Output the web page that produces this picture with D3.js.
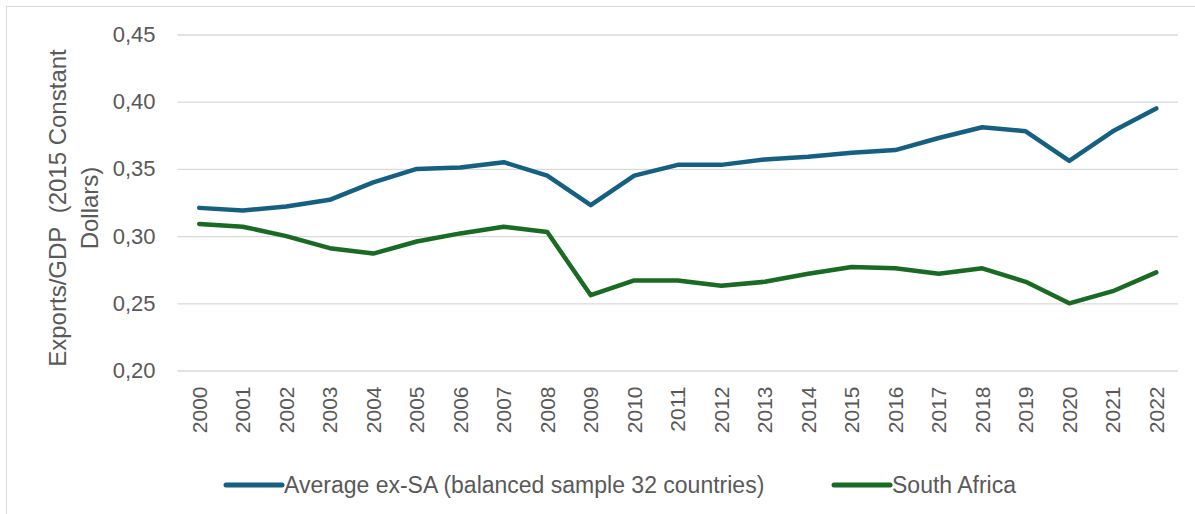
<!DOCTYPE html>
<html>
<head>
<meta charset="utf-8">
<script src="https://cdn.jsdelivr.net/npm/d3@7"></script>
<style>
  html, body { margin: 0; padding: 0; background: #fff; }
  svg { display: block; }
</style>
</head>
<body>
<script>
// values
var years = ["2000","2001","2002","2003","2004","2005","2006","2007","2008","2009","2010",
             "2011","2012","2013","2014","2015","2016","2017","2018","2019","2020","2021","2022"];
var avgExSA = [0.321,0.319,0.322,0.327,0.340,0.350,0.351,0.355,0.345,0.323,0.345,
               0.353,0.353,0.357,0.359,0.362,0.364,0.373,0.381,0.378,0.356,0.378,0.395];
var southAfrica = [0.309,0.307,0.300,0.291,0.287,0.296,0.302,0.307,0.303,0.256,0.267,
                   0.267,0.263,0.266,0.272,0.277,0.276,0.272,0.276,0.266,0.250,0.259,0.273];
var yTicks = [0.20,0.25,0.30,0.35,0.40,0.45];
var seriesNames = ["Average ex-SA (balanced sample 32 countries)", "South Africa"];
var seriesColors = ["#156082", "#196B24"];

var W = 1195, H = 514;
var textCol = "#595959";

var svg = d3.select("body").append("svg")
    .attr("width", W)
    .attr("height", H)
    .attr("viewBox", "0 0 " + W + " " + H);

// chart area border (only left/top visible in the crop)
svg.append("rect")
    .attr("x", 6.5).attr("y", 6.5)
    .attr("width", W + 20).attr("height", H + 20)
    .attr("fill", "#fff")
    .attr("stroke", "#d9d9d9")
    .attr("stroke-width", 1);

var x = d3.scaleBand().domain(years).range([177.5, 1178]).padding(0);
var y = d3.scaleLinear().domain([0.20, 0.45]).range([370.5, 34.5]);

// gridlines + y labels
var yAxis = d3.axisLeft(y)
    .tickValues(yTicks)
    .tickSize(-(1178 - 177.5))
    .tickPadding(22)
    .tickFormat(function (d) { return d3.format(".2f")(d).replace(".", ","); });

var gy = svg.append("g")
    .attr("transform", "translate(177.5,0)")
    .call(yAxis);
gy.select(".domain").remove();
gy.selectAll(".tick line")
    .attr("stroke", "#d9d9d9")
    .attr("stroke-width", 1.3);
gy.selectAll(".tick text")
    .attr("fill", textCol)
    .style("font-family", "'Liberation Sans', Arial, sans-serif")
    .style("font-size", "22px");

// x labels, rotated
var gx = svg.append("g")
    .attr("transform", "translate(0,370.5)")
    .call(d3.axisBottom(x).tickSize(0).tickPadding(0));
gx.select(".domain").remove();
gx.selectAll(".tick text")
    .attr("fill", textCol)
    .style("font-family", "'Liberation Sans', Arial, sans-serif")
    .style("font-size", "21px")
    .attr("text-anchor", "end")
    .attr("dy", "0.35em")
    .attr("transform", "translate(0,16) rotate(-90)");

// y axis title (two lines)
var title = svg.append("text")
    .attr("transform", "translate(58,208) rotate(-90)")
    .attr("text-anchor", "middle")
    .attr("fill", textCol)
    .style("font-family", "'Liberation Sans', Arial, sans-serif")
    .style("font-size", "24px");
title.append("tspan").attr("x", 0).attr("dy", "0.35em").text("Exports/GDP\u00a0\u00a0(2015 Constant");
title.append("tspan").attr("x", 0).attr("dy", "1.3em").text("Dollars)");

// lines
var line = d3.line()
    .x(function (d, i) { return x(years[i]) + x.bandwidth() / 2; })
    .y(function (d) { return y(d); });

[avgExSA, southAfrica].forEach(function (s, k) {
    svg.append("path")
        .datum(s)
        .attr("fill", "none")
        .attr("stroke", seriesColors[k])
        .attr("stroke-width", 4.5)
        .attr("stroke-linejoin", "round")
        .attr("stroke-linecap", "round")
        .attr("d", line);
});

// legend
var legendX = [226, 834];
var legend = svg.append("g");
seriesNames.forEach(function (name, k) {
    var g = legend.append("g").attr("transform", "translate(" + legendX[k] + ",485)");
    g.append("line")
        .attr("x1", 0).attr("x2", 56)
        .attr("stroke", seriesColors[k])
        .attr("stroke-width", 5)
        .attr("stroke-linecap", "round");
    g.append("text")
        .attr("x", 58)
        .attr("dy", "0.35em")
        .attr("fill", textCol)
        .style("font-family", "'Liberation Sans', Arial, sans-serif")
        .style("font-size", "23px")
        .text(name);
});
</script>
</body>
</html>
